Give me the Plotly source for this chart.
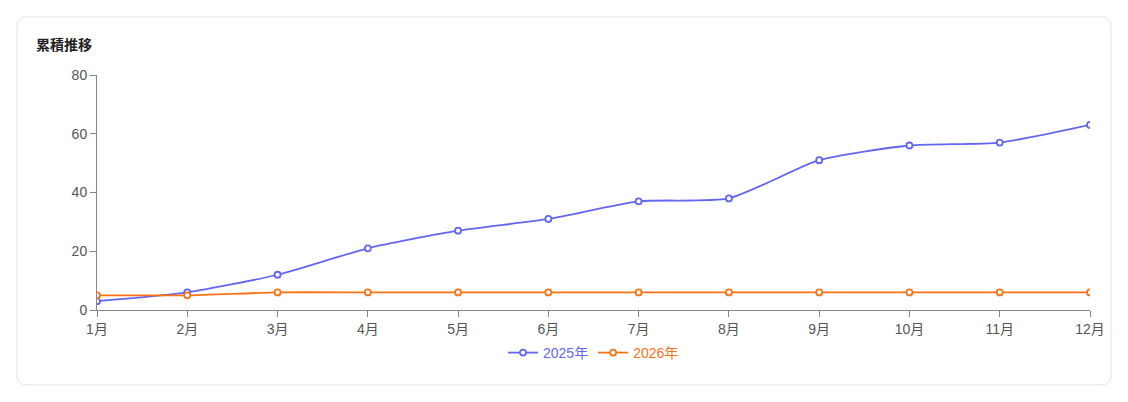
import plotly.graph_objects as go

months = ["1月","2月","3月","4月","5月","6月","7月","8月","9月","10月","11月","12月"]
s2025 = [3, 6, 12, 21, 27, 31, 37, 38, 51, 56, 57, 63]
s2026 = [5, 5, 6, 6, 6, 6, 6, 6, 6, 6, 6, 6]
names = ["2025年", "2026年"]
colors = ["#6366f1", "#f97316"]

fig = go.Figure()
for name, vals, c in zip(names, [s2025, s2026], colors):
    fig.add_trace(go.Scatter(
        x=months, y=vals, mode="lines+markers",
        name=f'<span style="color:{c}">{name}</span>',
        line=dict(color=c, width=1.8, shape="spline", smoothing=0.6),
        marker=dict(symbol="circle", size=6, color="white", line=dict(color=c, width=1.8)),
    ))

OFF = 8
W, H = 1128 - 2 * OFF, 402 - 2 * OFF
L, R, T, B = 97 - OFF, 1128 - 1090 - OFF, 75 - OFF, 402 - 310 - OFF
pw, ph = W - L - R, H - T - B
def px(x): return (x - OFF - L) / pw
def py(y): return (H - B - (y - OFF)) / ph
x0, x1, y0, y1 = px(17), px(1111), py(385), py(17)
rx, ry = 10 / pw, 10 / ph
path = (f"M {x0+rx} {y1} L {x1-rx} {y1} Q {x1} {y1} {x1} {y1-ry} "
        f"L {x1} {y0+ry} Q {x1} {y0} {x1-rx} {y0} L {x0+rx} {y0} "
        f"Q {x0} {y0} {x0} {y0+ry} L {x0} {y1-ry} Q {x0} {y1} {x0+rx} {y1} Z")

fig.update_layout(
    width=W, height=H, margin=dict(l=L, r=R, t=T, b=B),
    paper_bgcolor="white", plot_bgcolor="white",
    font=dict(family="Liberation Sans, Noto Sans CJK JP, sans-serif", size=14, color="#555"),
    shapes=[dict(type="path", xref="paper", yref="paper", path=path,
                 line=dict(color="#e3e3e3", width=1), fillcolor="rgba(0,0,0,0)", layer="below")],
    annotations=[dict(text="<b>累積推移</b>", xref="paper", yref="paper", x=px(34), y=py(45),
                      xanchor="left", yanchor="middle", showarrow=False,
                      font=dict(size=14, color="#222"))],
    showlegend=True,
    legend=dict(orientation="h", x=0.5, xanchor="center", y=py(353), yanchor="middle",
                font=dict(size=14), itemwidth=30, tracegroupgap=0),
    xaxis=dict(showgrid=False, showline=True, linecolor="#888", ticks="outside",
               tickcolor="#888", ticklen=6, range=[0, 11], zeroline=False,
               tickfont=dict(size=14, color="#555")),
    yaxis=dict(showgrid=False, showline=True, linecolor="#888", ticks="outside",
               tickcolor="#888", ticklen=6, range=[0, 80], dtick=20, zeroline=False,
               tickfont=dict(size=14, color="#555")),
)
fig.write_html("out.html")
